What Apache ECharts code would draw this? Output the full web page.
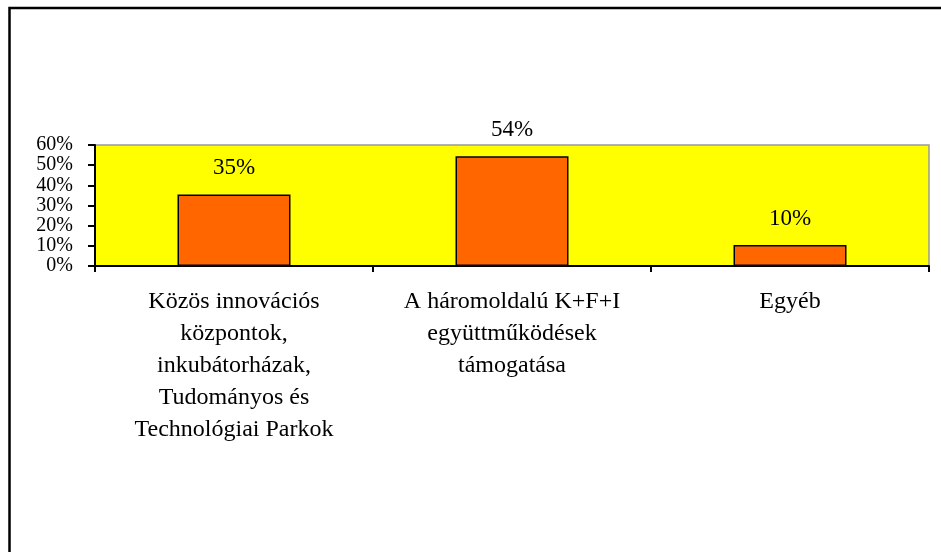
<!DOCTYPE html>
<html>
<head>
<meta charset="utf-8">
<script src="https://cdn.jsdelivr.net/npm/echarts@6/dist/echarts.min.js"></script>
<style>html,body{margin:0;padding:0;background:#fff}#c{width:941px;height:552px}</style>
</head>
<body>
<div id="c"></div>
<script>
var categories = ['Közös innovációs\nközpontok,\ninkubátorházak,\nTudományos és\nTechnológiai Parkok', 'A háromoldalú K+F+I\negyüttműködések\ntámogatása', 'Egyéb'];
var values = [35.4, 54.4, 10.4];
var yTicks = [0, 10, 20, 30, 40, 50, 60];
var font = "'Liberation Serif', 'Times New Roman', serif";
var chart = echarts.init(document.getElementById('c'), null, {renderer: 'canvas'});
chart.setOption({
  animation: false,
  backgroundColor: '#fff',
  graphic: [{
    type: 'rect', z: 100,
    shape: {x: 9.5, y: 8, width: 1200, height: 1200},
    style: {fill: 'none', stroke: '#000', lineWidth: 2.5}
  }],
  grid: {left: 95, right: 12, top: 145, bottom: 286, show: true, backgroundColor: '#ffff00', borderColor: '#999', borderWidth: 1.5},
  xAxis: {
    type: 'category', data: categories,
    axisLine: {lineStyle: {color: '#000', width: 2}},
    axisTick: {show: true, alignWithLabel: false, length: 6, lineStyle: {color: '#000', width: 2}},
    axisLabel: {interval: 0, color: '#000', fontFamily: font, fontSize: 24, lineHeight: 32, margin: 20}
  },
  yAxis: {
    type: 'value', min: yTicks[0], max: yTicks[yTicks.length - 1], interval: 10,
    splitLine: {show: false},
    axisLine: {show: true, lineStyle: {color: '#000', width: 2}},
    axisTick: {show: true, length: 7, lineStyle: {color: '#000', width: 2}},
    axisLabel: {color: '#000', fontFamily: font, fontSize: 20, margin: 22,
      showMinLabel: true, showMaxLabel: true, hideOverlap: false,
      formatter: function (v) { return v + '%'; }}
  },
  series: [{
    type: 'bar', data: values, barWidth: 113,
    itemStyle: {color: '#ff6600', borderColor: '#000', borderWidth: 1.5},
    label: {show: true, position: 'top', distance: 15, color: '#000', fontFamily: font, fontSize: 23,
      formatter: function (p) { return Math.round(p.value) + '%'; }}
  }]
});
</script>
</body>
</html>
